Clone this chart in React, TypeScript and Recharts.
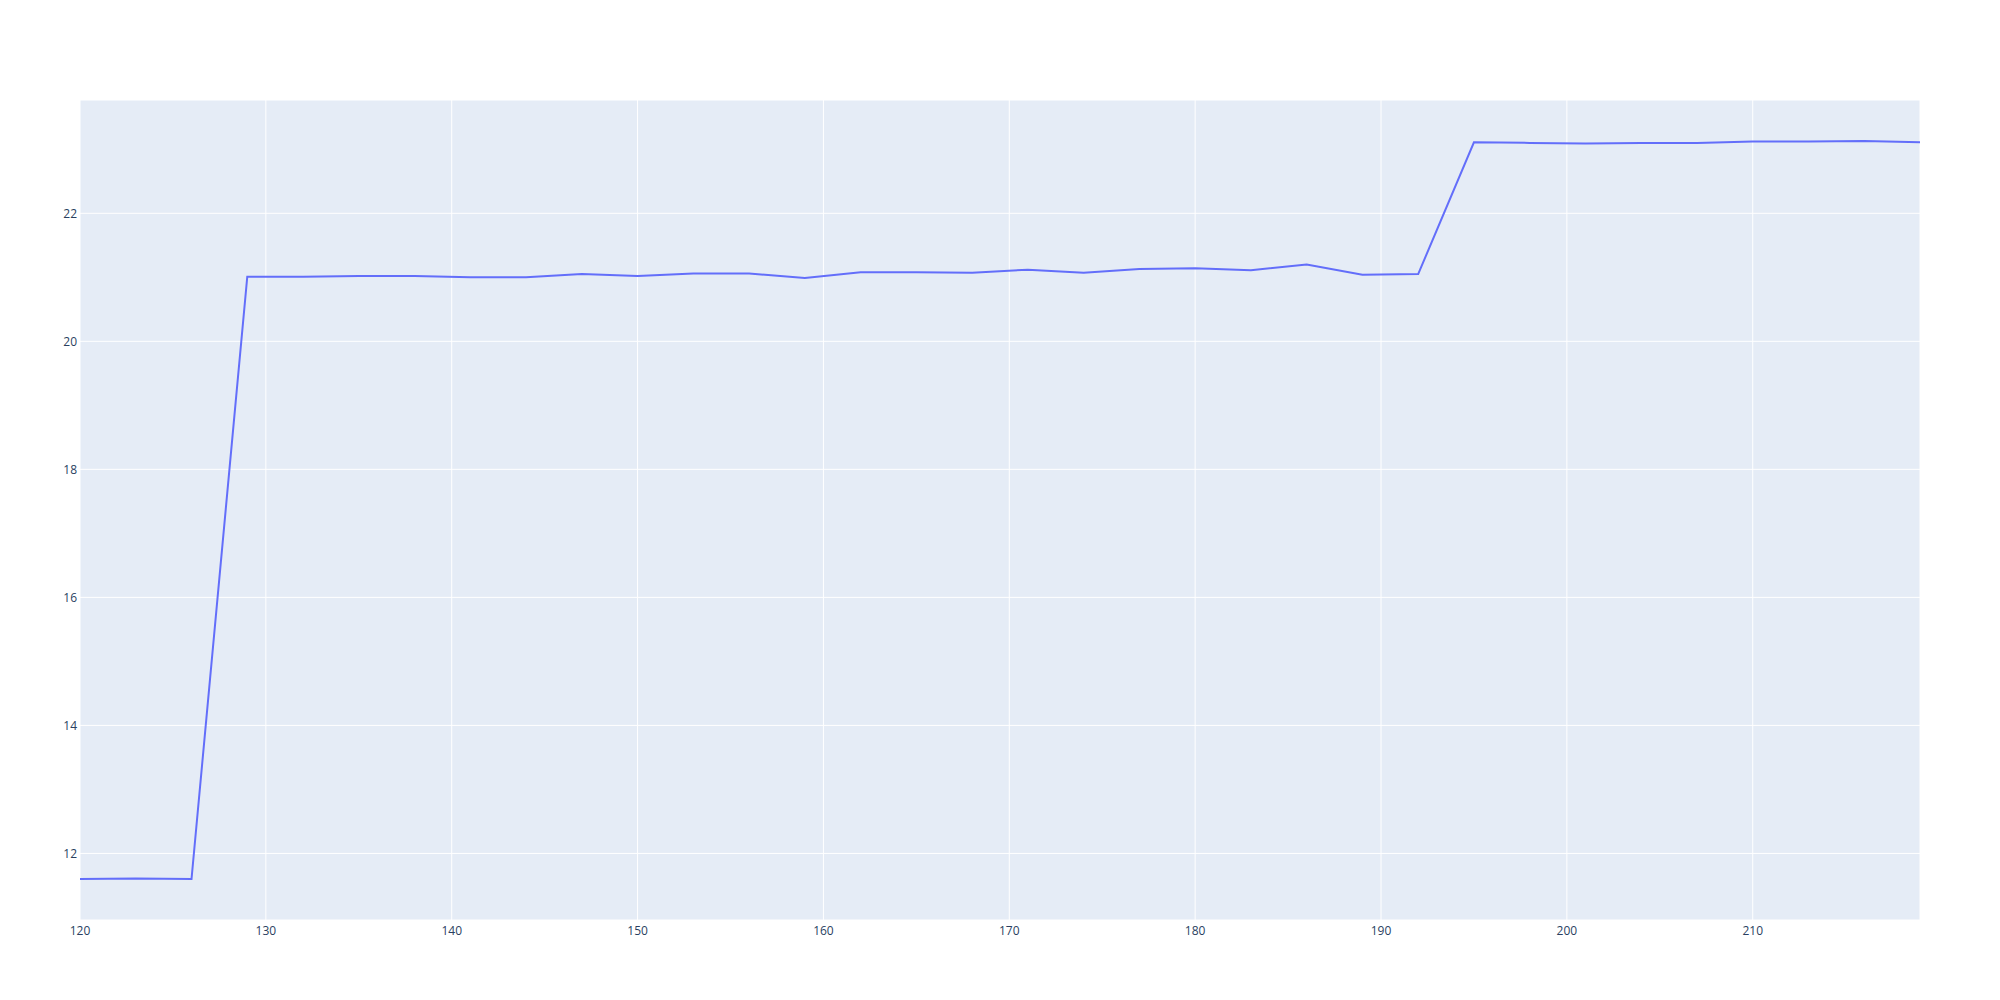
import { CartesianGrid, Line, LineChart, XAxis, YAxis } from 'recharts'

const xValues = [
  120, 123, 126, 129, 132, 135, 138, 141, 144, 147, 150, 153, 156, 159, 162, 165, 168,
  171, 174, 177, 180, 183, 186, 189, 192, 195, 198, 201, 204, 207, 210, 213, 216, 219,
]

const yValues = [
  11.6, 11.61, 11.6, 21.01, 21.01, 21.02, 21.02, 21.0, 21.0, 21.05, 21.02, 21.06, 21.06,
  20.99, 21.08, 21.08, 21.07, 21.12, 21.07, 21.13, 21.14, 21.11, 21.2, 21.04, 21.05,
  23.11, 23.1, 23.09, 23.1, 23.1, 23.12, 23.12, 23.13, 23.11,
]

const xTicks = [120, 130, 140, 150, 160, 170, 180, 190, 200, 210]
const yTicks = [12, 14, 16, 18, 20, 22]

const data = xValues.map((x, i) => ({ x, y: yValues[i] }))

const tickStyle = { fill: '#2a3f5f', fontSize: 12, fontFamily: '"Open Sans", sans-serif' }

export default function App() {
  return (
    <div style={{ position: 'absolute', left: 0, top: 0, width: 2000, height: 1000, background: '#fff' }}>
      <LineChart width={2000} height={1000} data={data} margin={{ top: 100, right: 80, bottom: 0, left: 0 }}>
        <CartesianGrid fill="#E5ECF6" stroke="#ffffff" strokeWidth={1} />
        <XAxis
          dataKey="x"
          type="number"
          domain={[120, 219]}
          ticks={xTicks}
          allowDataOverflow
          height={80}
          axisLine={false}
          tickLine={false}
          tickSize={0}
          tickMargin={6}
          tick={tickStyle}
        />
        <YAxis
          type="number"
          domain={[10.96, 23.77]}
          ticks={yTicks}
          allowDataOverflow
          width={80}
          axisLine={false}
          tickLine={false}
          tickSize={0}
          tickMargin={3}
          tick={tickStyle}
        />
        <Line
          dataKey="y"
          stroke="#636efa"
          strokeWidth={2}
          dot={false}
          type="linear"
          isAnimationActive={false}
        />
      </LineChart>
    </div>
  )
}
